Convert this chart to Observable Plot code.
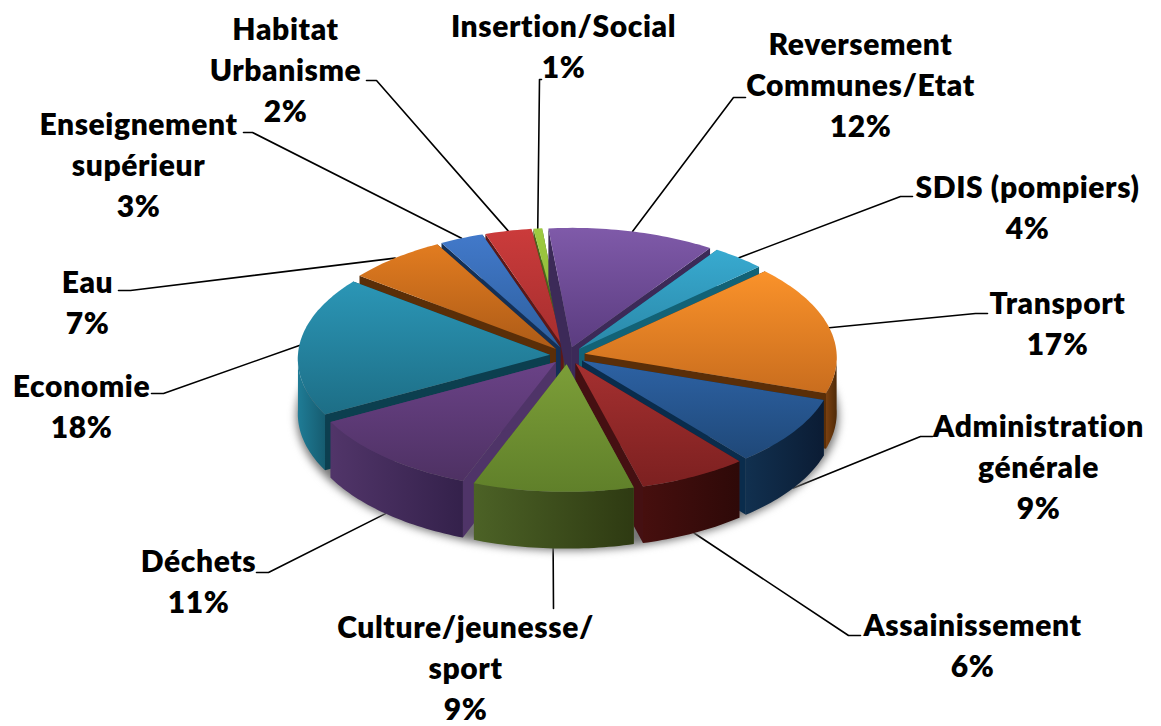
<!DOCTYPE html>
<html>
<head>
<meta charset="utf-8">
<script src="https://cdn.jsdelivr.net/npm/d3@7"></script>
<script src="https://cdn.jsdelivr.net/npm/@observablehq/plot@0.6"></script>
<style>html,body{margin:0;padding:0;background:#fff}svg{display:block}</style>
</head>
<body>
<div id="chart"></div>
<script>
// ---- data
const categories = ["Reversement\nCommunes/Etat","SDIS (pompiers)","Transport","Administration\ngénérale","Assainissement","Culture/jeunesse/\nsport","Déchets","Economie","Eau","Enseignement\nsupérieur","Habitat\nUrbanisme","Insertion/Social"];
const percents = [12,4,17,9,6,9,11,18,7,3,2,1];
// slice sizes (the printed labels are rounded)
const shares = [11.06,3.53,17.08,8.94,6.75,9.97,11.28,18.25,6.58,2.89,3.08,0.58];

// ---- palette
const topLight = ["#7f5aa9","#38aad0","#fa922a","#2d62a4","#a53030","#7c9e38","#6a4287","#2b96b6","#e27c20","#4279ca","#cb3b3b","#9ecb40"];
const topDark  = ["#5b3c80","#2a88a8","#c96d1e","#1f4878","#7c2020","#60802a","#4e3163","#1d6e86","#ad5b17","#2d5f9e","#a52e2e","#86ae36"];
const sideA    = ["#4a3268","#1b6f88","#7a4010","#11304f","#460f0e","#4c6226","#513569","#1f7c96","#6a3a0c","#1d3f70","#6c1c1c","#58761f"];
const sideB    = ["#35224d","#125668","#4f2a08","#0b1c34","#2e0908","#2e3a12","#34214b","#165c70","#4f2a08","#142e52","#4c1212","#3e5415"];
const radial   = ["#3c2a58","#126276","#5a2e08","#0a2c4c","#451012","#4c6226","#4f3468","#0c3f4f","#5a2e08","#143056","#5c1818","#4c661c"];

// ---- label layout (chart space)
const labelAt = [[860,85],[1027,208],[1057,324],[1038,467],[972,646],[465,668],[198,582],[81,407],[87,303],[138,165],[285,70],[563,47]];
const leaderElbow = [[[733,97],[745,97]],[[900,196],[912,196]],[[975,313],[987,313]],[[920,436],[932,436]],[[848,635],[860,635]],[[553,608],[553,608]],[[268,572],[256,572]],[[163,393],[151,393]],[[130,290],[118,290]],[[252,132],[243,132]],[[376,80],[366,80]],[[539,79],[541,79]]];

// ---- pie geometry
const cx = 567, cy = 355, R = 252, k = 0.49, depth = 55, persp = 0.03, explode = 0.07;
const startDeg = -5.5;
const pie = d3.pie().sort(null).value(d => d)
  .startAngle(startDeg * Math.PI / 180).endAngle((startDeg + 360) * Math.PI / 180);
const arcs = pie(shares);

function project(X, Yb, z) {
  const s = 1 - persp * Yb;
  return {x: cx + X * R * s, y: cy - Yb * k * R * s + z * depth * s};
}
const slices = arcs.map((a, i) => {
  const mid = (a.startAngle + a.endAngle) / 2;
  const ox = explode * Math.sin(mid), oy = explode * Math.cos(mid);
  const pt = (th, z) => project(ox + Math.sin(th), oy + Math.cos(th), z);
  const apex = z => project(ox, oy, z);
  const arcPts = (t0, t1, z) => {
    const n = Math.max(2, Math.ceil((t1 - t0) / 0.02));
    return d3.range(n + 1).map(j => pt(t0 + (t1 - t0) * j / n, z));
  };
  const top = [apex(0), ...arcPts(a.startAngle, a.endAngle, 0), apex(0)];
  const faceA = [apex(0), pt(a.startAngle, 0), pt(a.startAngle, 1), apex(1), apex(0)];
  const faceB = [apex(0), pt(a.endAngle, 0), pt(a.endAngle, 1), apex(1), apex(0)];
  const vis0 = Math.max(a.startAngle, Math.PI / 2), vis1 = Math.min(a.endAngle, 3 * Math.PI / 2);
  let outer = null;
  if (vis1 > vis0) {
    outer = [...arcPts(vis0, vis1, 0), ...arcPts(vis0, vis1, 1).reverse()];
    outer.push(outer[0]);
  }
  const rim = Math.cos(mid) < 0 ? pt(mid, 1) : pt(mid, 0);
  return {i, mid, top, faceA, faceB, outer, rim, order: pt(mid, 0).y};
});
const painter = [...slices].sort((a, b) => a.order - b.order);

const polygon = (pts, fill) => Plot.line(pts, {x: "x", y: "y", fill, stroke: "none", curve: "linear"});

// ---- shadow under the pie
const shadowPts = d3.range(0, 361, 3).map(d => {
  const t = d * Math.PI / 180;
  return project(1.075 * Math.sin(t), 1.07 * Math.cos(t), 1.03);
});

// ---- leaders
const leaders = slices.map(s => {
  const [e, t] = leaderElbow[s.i];
  return [s.rim, {x: e[0], y: e[1]}, {x: t[0], y: t[1]}];
});

const labels = categories.map((c, i) => ({
  text: `${c}\n${percents[i]}%`, x: labelAt[i][0], y: labelAt[i][1] - 3
}));

const marks = [
  ...leaders.map(l => Plot.line(l, {x: "x", y: "y", stroke: "#000", strokeWidth: 1.6, curve: "linear"})),
  Plot.line(shadowPts, {x: "x", y: "y", fill: "#777", stroke: "none", curve: "linear", imageFilter: "blur(4px)"})
];
for (const s of painter) {
  marks.push(polygon(s.faceA, radial[s.i]));
  marks.push(polygon(s.faceB, radial[s.i]));
  if (s.outer) marks.push(polygon(s.outer, `url(#side${s.i})`));
  marks.push(polygon(s.top, `url(#top${s.i})`));
}
marks.push(Plot.text(labels, {
  x: "x", y: "y", text: "text", textAnchor: "middle", lineAnchor: "middle",
  fontSize: 30, fontWeight: 800, lineHeight: 1.37, fill: "#000"
}));

const svg = Plot.plot({
  width: 1161, height: 726, margin: 0,
  x: {domain: [0, 1161], range: [0, 1161], axis: null},
  y: {domain: [0, 726], range: [0, 726], axis: null},
  style: {fontFamily: "Lato, sans-serif", background: "#fff", letterSpacing: "0.6px"},
  marks
});

const defs = document.createElementNS("http://www.w3.org/2000/svg", "defs");
defs.innerHTML = percents.map((_, i) =>
  `<linearGradient id="top${i}" x1="0" y1="0" x2="0" y2="1"><stop offset="0" stop-color="${topLight[i]}"/><stop offset="1" stop-color="${topDark[i]}"/></linearGradient>` +
  `<linearGradient id="side${i}" x1="0" y1="0" x2="1" y2="0"><stop offset="0" stop-color="${sideA[i]}"/><stop offset="1" stop-color="${sideB[i]}"/></linearGradient>`
).join("");
svg.insertBefore(defs, svg.firstChild);
document.getElementById("chart").appendChild(svg);
</script>
</body>
</html>
